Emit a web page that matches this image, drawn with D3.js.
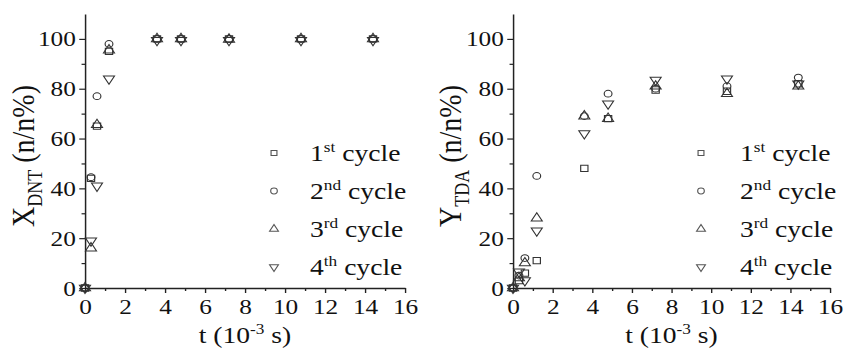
<!DOCTYPE html>
<html>
<head>
<meta charset="utf-8">
<script src="https://cdn.jsdelivr.net/npm/d3@7"></script>
<style>
  html, body { margin: 0; padding: 0; background: #fff; }
  svg { display: block; }
</style>
</head>
<body>
<div id="chart"></div>
<script>
// time points (10^-3 s)
const times = [0, 0.3, 0.6, 1.2, 3.6, 4.8, 7.2, 10.8, 14.4];
const cycleNums = ["1", "2", "3", "4"];
const cycleSuffix = ["st", "nd", "rd", "th"];

// X_DNT, one array per cycle
const dnt1 = [0, 44, 65, 95, 100, 100, 100, 100, 100];
const dnt2 = [0, 44.5, 77, 98, 100, 100, 100, 100, 100];
const dnt3 = [0, 16, 65.5, 95.5, 100, 100, 99.8, 100, 100];
const dnt4 = [0, 19, 41, 84, 99.5, 99.5, 99.5, 99.5, 99.5];

// Y_TDA, one array per cycle
const tda1 = [0, 3, 6, 11, 48, 68, 79.5, 79, 82];
const tda2 = [0, 5, 12, 45, 69, 78, 80, 81, 84.5];
const tda3 = [0, 4, 10, 28, 69, 68, 81, 78, 81];
const tda4 = [0, 6.5, 3, 23, 62, 74, 83.5, 84, 82];

const xTicks = [0, 2, 4, 6, 8, 10, 12, 14, 16];
const yTicks = [0, 20, 40, 60, 80, 100];

const FONT = "Liberation Serif";

// the reference is stretched sideways, so draw in a narrower box and stretch it
const SX = 1.15;
const W = 845, H = 352;

const svg = d3.select("#chart").append("svg")
  .attr("width", W).attr("height", H)
  .attr("viewBox", `0 0 ${W / SX} ${H}`)
  .attr("preserveAspectRatio", "none")
  .attr("font-family", FONT);

const symbols = [
  d3.symbol().type(d3.symbolSquare),
  d3.symbol().type(d3.symbolCircle),
  d3.symbol().type(d3.symbolTriangle),
  d3.symbol().type(d3.symbolTriangle)
];

function serif(sel, size) {
  return sel.attr("font-family", FONT).style("font-family", FONT)
    .style("font-size", size + "px").attr("fill", "#111");
}

function drawPanel(p) {
  const x = d3.scaleLinear().domain([0, 16]).range([p.x0 / SX, p.x1 / SX]);
  const y = d3.scaleLinear().domain([0, 110]).range([288, 14]);
  const g = svg.append("g");

  // minor ticks
  g.append("g").attr("transform", "translate(0,288)")
    .call(d3.axisBottom(x).tickValues(d3.range(1, 16, 2)).tickSize(3).tickFormat(""))
    .call(a => a.select(".domain").remove());
  g.append("g").attr("transform", `translate(${x(0)},0)`)
    .call(d3.axisLeft(y).tickValues(d3.range(10, 100, 20)).tickSize(3).tickFormat(""))
    .call(a => a.select(".domain").remove());

  // major axes
  const xa = g.append("g").attr("transform", "translate(0,288)")
    .call(d3.axisBottom(x).tickValues(xTicks).tickSize(5).tickSizeOuter(0).tickPadding(5));
  const ya = g.append("g").attr("transform", `translate(${x(0)},0)`)
    .call(d3.axisLeft(y).tickValues(yTicks).tickSize(5).tickSizeOuter(0).tickPadding(3));
  [xa, ya].forEach(a => {
    a.attr("font-family", FONT);
    a.select(".domain").attr("stroke", "#222").attr("stroke-width", 1.3);
    serif(a.selectAll(".tick text"), 22);
  });
  g.selectAll(".tick line").attr("stroke", "#222").attr("stroke-width", 1.2);

  // points
  p.series.forEach((vals, ci) => {
    const rot = ci === 3 ? 180 : 0;
    g.append("g").selectAll("path")
      .data(vals.map((v, i) => [times[i], v]))
      .join("path")
      .attr("d", symbols[ci].size(ci === 1 ? 36 : 40)())
      .attr("transform", d => `translate(${x(d[0])},${y(d[1])}) rotate(${rot})`)
      .attr("fill", "none").attr("stroke", "#333").attr("stroke-width", 1);
  });

  // legend
  cycleNums.forEach((n, ci) => {
    const cy = 153 + ci * 38;
    const rot = ci === 3 ? 180 : 0;
    g.append("path")
      .attr("d", symbols[ci].size(26)())
      .attr("transform", `translate(${p.legSym / SX},${cy}) rotate(${rot})`)
      .attr("fill", "none").attr("stroke", "#555").attr("stroke-width", 1);
    const t = serif(g.append("text"), 24).attr("x", p.legText / SX).attr("y", cy + 8);
    t.append("tspan").text(n);
    t.append("tspan").attr("dy", -9).style("font-size", "15px").text(cycleSuffix[ci]);
    t.append("tspan").attr("dy", 9).text(" cycle");
  });

  // x title
  const xt = serif(g.append("text"), 24).attr("x", (p.x0 + p.x1) / 2 / SX).attr("y", 343)
    .attr("text-anchor", "middle");
  xt.append("tspan").text("t (10");
  xt.append("tspan").attr("dy", -9).style("font-size", "15px").text("-3");
  xt.append("tspan").attr("dy", 9).text(" s)");

  // y title
  const yt = serif(g.append("text"), 28)
    .attr("transform", `translate(${p.yTitleX / SX},156) rotate(-90)`)
    .attr("text-anchor", "middle");
  yt.append("tspan").text(p.yMain);
  yt.append("tspan").attr("dy", 7).style("font-size", "18px").text(p.ySub);
  yt.append("tspan").attr("dy", -7).text(" (n/n%)");
}

drawPanel({ x0: 85, x1: 405, legSym: 274, legText: 310, yTitleX: 34,
  yMain: "X", ySub: "DNT", series: [dnt1, dnt2, dnt3, dnt4] });
drawPanel({ x0: 513, x1: 830, legSym: 701, legText: 740, yTitleX: 461,
  yMain: "Y", ySub: "TDA", series: [tda1, tda2, tda3, tda4] });
</script>
</body>
</html>
